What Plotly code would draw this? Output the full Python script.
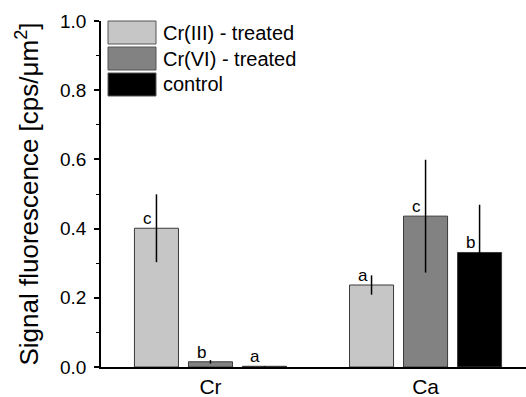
import plotly.graph_objects as go

categories = ["Cr", "Ca"]
series_names = ["Cr(III) - treated", "Cr(VI) - treated", "control"]
values = {
    "Cr(III) - treated": [0.401, 0.237],
    "Cr(VI) - treated": [0.015, 0.436],
    "control": [0.002, 0.331],
}
errors = {
    "Cr(III) - treated": [0.098, 0.028],
    "Cr(VI) - treated": [0.005, 0.163],
    "control": [0.001, 0.138],
}
letters = {
    "Cr(III) - treated": ["c", "a"],
    "Cr(VI) - treated": ["b", "c"],
    "control": ["a", "b"],
}
colors = {
    "Cr(III) - treated": "#c6c6c6",
    "Cr(VI) - treated": "#828282",
    "control": "#000000",
}
y_ticks = [0.0, 0.2, 0.4, 0.6, 0.8, 1.0]

FONT = "Liberation Sans, Arial, sans-serif"

fig = go.Figure()
for s in series_names:
    fig.add_trace(go.Bar(
        name=s, x=categories, y=values[s],
        marker=dict(color=colors[s], line=dict(color="#3a3a3a", width=1)),
        error_y=dict(type="data", array=errors[s], color="#000000",
                     thickness=1.5, width=0),
        showlegend=False,
    ))

# significance letters
offsets = {"Cr(III) - treated": -54, "Cr(VI) - treated": 0, "control": 54}
for s in series_names:
    for i, c in enumerate(categories):
        fig.add_annotation(
            x=c, y=values[s][i], text=letters[s][i], showarrow=False,
            xref="x", yref="y", xanchor="center", yanchor="bottom",
            xshift=offsets[s] - 9, yshift=-2,
            font=dict(family=FONT, size=17, color="#000"),
        )

# legend drawn as boxes + text
leg_top = 21
row_h = 26
for k, s in enumerate(series_names):
    y0 = 397 - (leg_top + k * row_h)
    fig.add_shape(type="rect", xref="paper", yref="paper",
                  x0=(108 - 101) / 425, x1=(156 - 101) / 425,
                  y0=(y0 - 23 - 30) / 346, y1=(y0 - 30) / 346,
                  fillcolor=colors[s], line=dict(color="#555", width=1))
    fig.add_annotation(text=s, xref="paper", yref="paper",
                       x=(161 - 101) / 425, y=(y0 - 11.5 - 30) / 346,
                       xanchor="left", yanchor="middle", showarrow=False,
                       font=dict(family=FONT, size=20, color="#000"))

fig.update_layout(
    width=526, height=397,
    margin=dict(l=101, r=0, t=21, b=30),
    paper_bgcolor="white", plot_bgcolor="white",
    barmode="group", bargap=0.2465, bargroupgap=0.185,
    font=dict(family=FONT, color="#000"),
    showlegend=False,
)
fig.update_xaxes(
    range=[-0.509, 1.467], showline=True, linecolor="#000", linewidth=1.5,
    ticks="", tickfont=dict(size=21, family=FONT), showgrid=False,
    ticklabelstandoff=0, automargin=False,
)
fig.update_yaxes(
    range=[0, 1.0], tickvals=y_ticks, ticktext=[f"{v:.1f}" for v in y_ticks],
    showline=True, linecolor="#000", linewidth=1.5, ticks="outside",
    ticklen=5, tickwidth=1.5, tickcolor="#000", showgrid=False, zeroline=False,
    tickfont=dict(size=19, family=FONT), ticklabelstandoff=4, automargin=False,
    minor=dict(dtick=0.1, ticks="outside", ticklen=3, tickcolor="#000", tickwidth=1),
    title=dict(text="Signal fluorescence [cps/μm<sup>2</sup>]",
               font=dict(size=26, family=FONT), standoff=14),
)

fig.write_html("out.html", config={"displayModeBar": False},
               post_script="document.body.style.margin='0';document.body.style.overflow='hidden';")
